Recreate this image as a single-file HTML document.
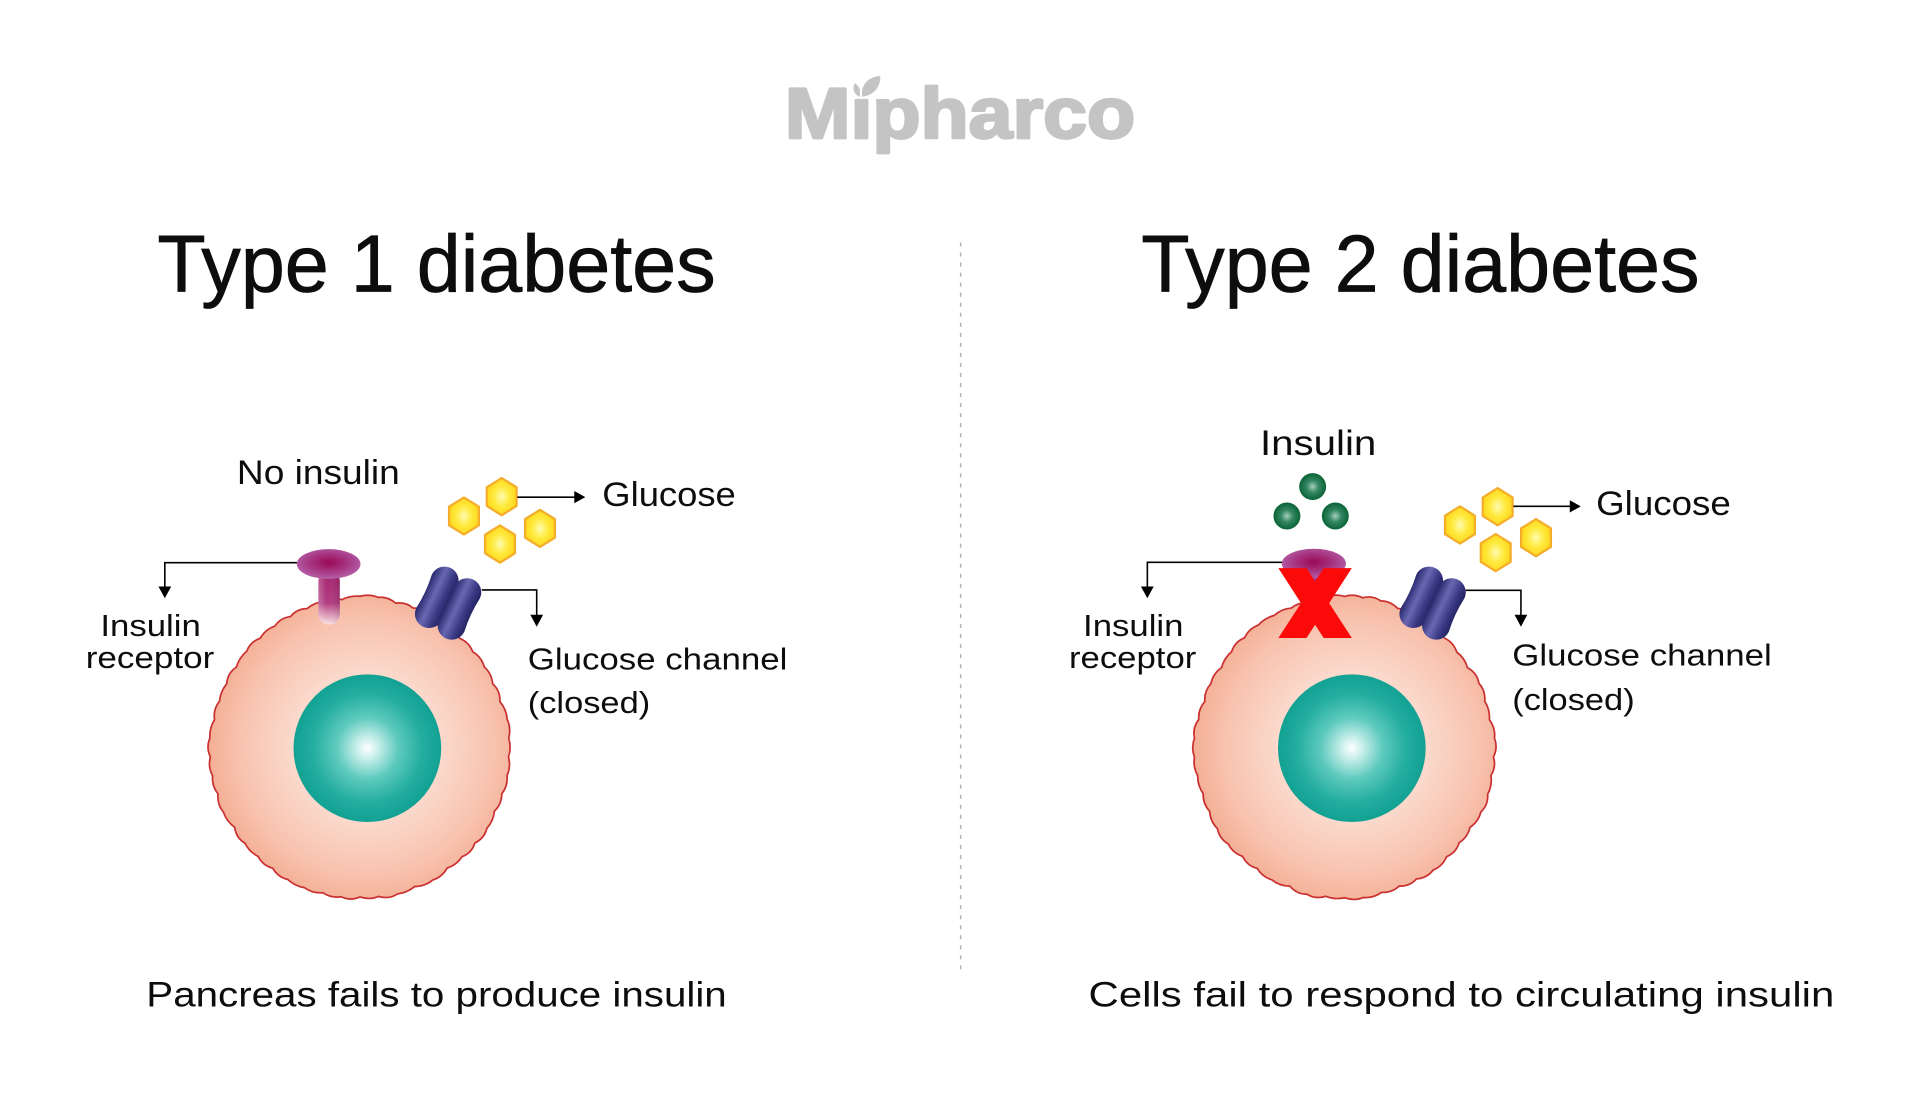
<!DOCTYPE html>
<html><head><meta charset="utf-8"><style>
html,body{margin:0;padding:0;background:#fff;}
svg{display:block;}
text{font-family:"Liberation Sans",sans-serif;fill:#0d0d0d;}
</style></head><body>
<svg width="1920" height="1100" viewBox="0 0 1568 898.33" preserveAspectRatio="none" xmlns="http://www.w3.org/2000/svg">
<defs>
<radialGradient id="cellG" cx="0.525" cy="0.5" r="0.53">
<stop offset="0" stop-color="#fef1ec"/><stop offset="0.45" stop-color="#fbdacd"/><stop offset="0.8" stop-color="#f8c2ae"/><stop offset="1" stop-color="#f4ad93"/>
</radialGradient>
<radialGradient id="nucG" cx="0.5" cy="0.5" r="0.5">
<stop offset="0" stop-color="#ffffff"/><stop offset="0.12" stop-color="#d2f2ee"/><stop offset="0.42" stop-color="#5ecabe"/><stop offset="0.75" stop-color="#22ad9f"/><stop offset="1" stop-color="#12a193"/>
</radialGradient>
<radialGradient id="hexG" cx="0.5" cy="0.5" r="0.55">
<stop offset="0" stop-color="#fffbb0"/><stop offset="0.5" stop-color="#ffea3c"/><stop offset="1" stop-color="#ffd318"/>
</radialGradient>
<radialGradient id="dotG" cx="0.5" cy="0.5" r="0.5">
<stop offset="0" stop-color="#a6cfbd"/><stop offset="0.45" stop-color="#348762"/><stop offset="1" stop-color="#0a6336"/>
</radialGradient>
<radialGradient id="capG" cx="0.5" cy="0.45" r="0.55">
<stop offset="0" stop-color="#9a0a55"/><stop offset="0.6" stop-color="#a83a86"/><stop offset="1" stop-color="#b560a8"/>
</radialGradient>
<linearGradient id="stemG" x1="0" y1="0" x2="0" y2="1">
<stop offset="0" stop-color="#a3206c"/><stop offset="0.6" stop-color="#b23c82"/><stop offset="0.8" stop-color="#d98fb2"/><stop offset="1" stop-color="#fbe3e3"/>
</linearGradient>
<linearGradient id="stemH" x1="0" y1="0" x2="1" y2="0">
<stop offset="0" stop-color="#ffffff" stop-opacity="0.25"/><stop offset="0.4" stop-color="#ffffff" stop-opacity="0"/><stop offset="1" stop-color="#000000" stop-opacity="0.12"/>
</linearGradient>
<linearGradient id="capsG" x1="0" y1="0" x2="1" y2="0">
<stop offset="0" stop-color="#28286e"/><stop offset="0.38" stop-color="#6868b2"/><stop offset="0.72" stop-color="#3a3a85"/><stop offset="1" stop-color="#222262"/>
</linearGradient>
<polygon id="hex" points="0,-15.2 12.2,-7.6 12.2,7.6 0,15.2 -12.2,7.6 -12.2,-7.6" fill="url(#hexG)" stroke="#f4ad2a" stroke-width="1.8" stroke-linejoin="round"/>
<path id="caps" d="M-11.5,-15 A11.5,11.5 0 0 1 11.5,-15 Q9.5,0 11.5,15 A11.5,11.5 0 0 1 -11.5,15 Q-9.5,0 -11.5,-15 Z" fill="url(#capsG)"/>
</defs>

<!-- Logo -->
<text x="641" y="112.5" font-size="58" font-weight="bold" textLength="286" lengthAdjust="spacingAndGlyphs" style="fill:#c4c4c4;stroke:#c4c4c4;stroke-width:2.2;stroke-linejoin:round">Mıpharco</text>
<path d="M704,79 C703,70 708,63 719,62 C719,72 713,78 704,79 Z" fill="#c4c4c4"/>
<path d="M702,79 C697,77 696,72 698,68 C702,70 703,74 702,79 Z" fill="#c4c4c4"/>

<!-- Titles -->
<text x="128.5" y="238.2" font-size="66" textLength="456" lengthAdjust="spacingAndGlyphs" style="stroke:#0d0d0d;stroke-width:0.6">Type 1 diabetes</text>
<text x="932" y="238.2" font-size="66" textLength="456" lengthAdjust="spacingAndGlyphs" style="stroke:#0d0d0d;stroke-width:0.6">Type 2 diabetes</text>

<!-- Divider -->
<line x1="784.5" y1="198" x2="784.5" y2="796" stroke="#b0b0b0" stroke-width="1.2" stroke-dasharray="3.3 4.9"/>

<!-- ===== Type 1 ===== -->
<path id="cell1" d="M170,610.5 A124,124 0 1 0 418,610.5 A124,124 0 1 0 170,610.5 Z" fill="url(#cellG)" stroke="#c9302f" stroke-width="1.4" stroke-linejoin="round"/>
<circle cx="300" cy="611" r="60.3" fill="url(#nucG)"/>

<!-- receptor T1 -->
<rect x="260" y="466" width="17.5" height="44" rx="8.5" fill="url(#stemG)"/>
<rect x="260" y="466" width="17.5" height="44" rx="8.5" fill="url(#stemH)"/>
<ellipse cx="268.4" cy="460.6" rx="26" ry="12.2" fill="url(#capG)"/>

<!-- channel T1 -->
<use href="#caps" transform="translate(356.7,487.8) rotate(25)"/>
<use href="#caps" transform="translate(375.2,497.3) rotate(25)"/>

<!-- glucose T1 -->
<use href="#hex" x="409.7" y="405.6"/>
<use href="#hex" x="378.9" y="421.4"/>
<use href="#hex" x="441" y="431.5"/>
<use href="#hex" x="408.3" y="444.3"/>

<!-- connectors T1 -->
<g stroke="#000" stroke-width="1.3" fill="none">
<path d="M242.5,459.5 H134.6 V480"/>
<path d="M393.5,481.8 H438.3 V503"/>
<path d="M422.5,406 H470"/>
</g>
<g fill="#000">
<polygon points="129.4,479 139.8,479 134.6,488.6"/>
<polygon points="433.1,502 443.5,502 438.3,511.8"/>
<polygon points="469,401 469,411 478,406"/>
</g>

<!-- labels T1 -->
<text x="193.5" y="395.3" font-size="28" textLength="133" lengthAdjust="spacingAndGlyphs">No insulin</text>
<text x="491.9" y="413.2" font-size="28" textLength="109" lengthAdjust="spacingAndGlyphs">Glucose</text>
<text x="82" y="519.4" font-size="25" textLength="82" lengthAdjust="spacingAndGlyphs">Insulin</text>
<text x="70" y="545.5" font-size="25" textLength="105" lengthAdjust="spacingAndGlyphs">receptor</text>
<text x="431" y="546.6" font-size="25" textLength="212" lengthAdjust="spacingAndGlyphs">Glucose channel</text>
<text x="431" y="582.4" font-size="25" textLength="100" lengthAdjust="spacingAndGlyphs">(closed)</text>
<text x="119.5" y="822" font-size="29" textLength="474" lengthAdjust="spacingAndGlyphs">Pancreas fails to produce insulin</text>

<!-- ===== Type 2 ===== -->
<path id="cell2" d="M974,610.5 A124,124 0 1 0 1222,610.5 A124,124 0 1 0 974,610.5 Z" fill="url(#cellG)" stroke="#c9302f" stroke-width="1.4" stroke-linejoin="round"/>
<circle cx="1104" cy="611" r="60.3" fill="url(#nucG)"/>

<!-- receptor T2 -->
<rect x="1064" y="466" width="17.5" height="44" rx="8.5" fill="url(#stemG)"/>
<rect x="1064" y="466" width="17.5" height="44" rx="8.5" fill="url(#stemH)"/>
<ellipse cx="1073" cy="460.3" rx="26.2" ry="12.2" fill="url(#capG)"/>

<!-- insulin dots -->
<circle cx="1072" cy="397.4" r="11" fill="url(#dotG)"/>
<circle cx="1051" cy="421.4" r="11" fill="url(#dotG)"/>
<circle cx="1090.5" cy="421.4" r="11" fill="url(#dotG)"/>

<!-- red X -->
<polygon points="1044,464 1067,464 1074,474.8 1081,464 1104,464 1085.5,492.5 1104,521 1081,521 1074,510.2 1067,521 1044,521 1062.5,492.5" fill="#fb0a0a"/>

<!-- channel T2 -->
<use href="#caps" transform="translate(1160.7,487.8) rotate(25)"/>
<use href="#caps" transform="translate(1179.2,497.3) rotate(25)"/>

<!-- glucose T2 -->
<use href="#hex" x="1223.1" y="413.8"/>
<use href="#hex" x="1192.3" y="428.7"/>
<use href="#hex" x="1254.4" y="439.1"/>
<use href="#hex" x="1221.5" y="451.3"/>

<!-- connectors T2 -->
<g stroke="#000" stroke-width="1.3" fill="none">
<path d="M1047,459.2 H937 V480"/>
<path d="M1197,482.1 H1242.1 V503"/>
<path d="M1236,413.5 H1283"/>
</g>
<g fill="#000">
<polygon points="931.8,479 942.2,479 937,488.6"/>
<polygon points="1236.9,502 1247.3,502 1242.1,511.8"/>
<polygon points="1282,408.5 1282,418.5 1291,413.5"/>
</g>

<!-- labels T2 -->
<text x="1029" y="371.6" font-size="29" textLength="95" lengthAdjust="spacingAndGlyphs">Insulin</text>
<text x="1303.5" y="420.6" font-size="28" textLength="110" lengthAdjust="spacingAndGlyphs">Glucose</text>
<text x="884.5" y="519.4" font-size="25" textLength="82" lengthAdjust="spacingAndGlyphs">Insulin</text>
<text x="873" y="545.5" font-size="25" textLength="104" lengthAdjust="spacingAndGlyphs">receptor</text>
<text x="1235" y="543.5" font-size="25" textLength="212" lengthAdjust="spacingAndGlyphs">Glucose channel</text>
<text x="1235" y="579.8" font-size="25" textLength="100" lengthAdjust="spacingAndGlyphs">(closed)</text>
<text x="889" y="822" font-size="29" textLength="609" lengthAdjust="spacingAndGlyphs">Cells fail to respond to circulating insulin</text>
</svg>
<script>
(function(){
  function wavy(cx, cy, rx, ry, seed){
    var s = seed, N = 50, pts = [];
    function rnd(){ s = (s*9301+49297)%233280; return s/233280; }
    for (var i=0;i<N;i++){
      var t = i/N*2*Math.PI - Math.PI/2;
      var j = (rnd()-0.5)*2.2 - 0.8;
      var sq = 1 - 0.035*Math.max(0,-Math.sin(t));
      pts.push([cx + (rx+j)*sq*Math.cos(t), cy + (ry+j)*Math.sin(t), t]);
    }
    var d = 'M'+pts[0][0].toFixed(2)+','+pts[0][1].toFixed(2);
    for (var i=0;i<N;i++){
      var a = pts[i], b = pts[(i+1)%N];
      var tm = (a[2]+ (i===N-1 ? a[2]+2*Math.PI/N - a[2] : (b[2]-a[2])/2));
      tm = a[2] + Math.PI/N;
      var mx = (a[0]+b[0])/2, my = (a[1]+b[1])/2;
      var bump = 2.2 + rnd()*1.6;
      var qx = mx + bump*Math.cos(tm), qy = my + bump*Math.sin(tm);
      d += 'Q'+qx.toFixed(2)+','+qy.toFixed(2)+' '+b[0].toFixed(2)+','+b[1].toFixed(2);
    }
    return d+'Z';
  }
  try{
    document.getElementById('cell1').setAttribute('d', wavy(294,610.5,123,123.5,17));
    document.getElementById('cell2').setAttribute('d', wavy(1098,610.5,123,123.5,91));
  }catch(e){}
})();
</script>
</body></html>
